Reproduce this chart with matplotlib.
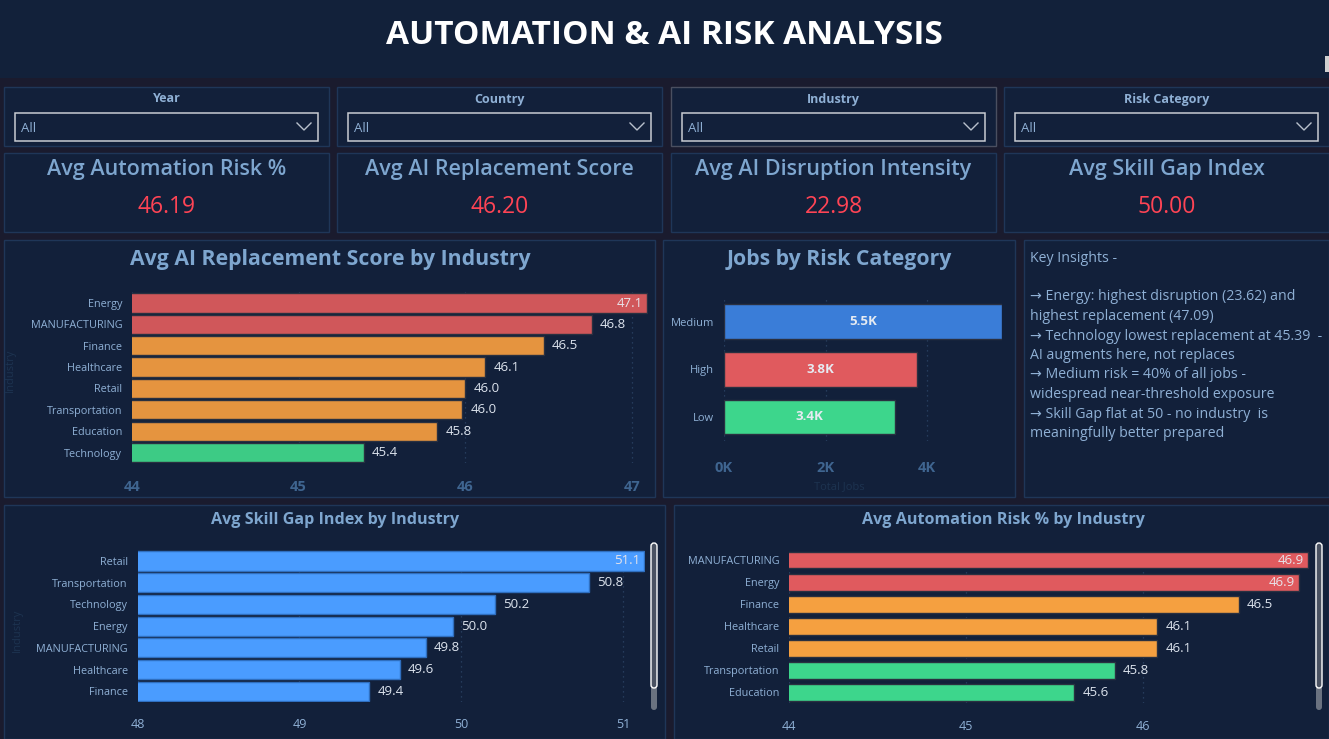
import matplotlib
matplotlib.use("Agg")
import matplotlib.pyplot as plt
from matplotlib.patches import Rectangle, FancyBboxPatch

W, H = 1329, 739
DPI = 100

# ---------------- data ----------------
title = "AUTOMATION & AI RISK ANALYSIS"
slicer_titles = ["Year", "Country", "Industry", "Risk Category"]
slicer_values = ["All", "All", "All", "All"]
kpi_titles = ["Avg Automation Risk %", "Avg AI Replacement Score",
              "Avg AI Disruption Intensity", "Avg Skill Gap Index"]
kpi_values = [46.19, 46.20, 22.98, 50.00]

repl_industries = ["Energy", "MANUFACTURING", "Finance", "Healthcare", "Retail",
                   "Transportation", "Education", "Technology"]
repl_scores = [47.09, 46.76, 46.47, 46.12, 46.00, 45.98, 45.83, 45.39]
repl_colors = ["#d0575a", "#d0575a", "#e5943f", "#e5943f", "#e5943f",
               "#e5943f", "#e5943f", "#3dcb85"]
repl_ticks = [44, 45, 46, 47]

risk_categories = ["Medium", "High", "Low"]
risk_jobs = [5470, 3808, 3379]
risk_colors = ["#3a7dd8", "#e05a5e", "#3dd68c"]
risk_ticks = [0, 2000, 4000]
risk_tick_labels = ["0K", "2K", "4K"]

skill_industries = ["Retail", "Transportation", "Technology", "Energy",
                    "MANUFACTURING", "Healthcare", "Finance"]
skill_gap = [51.13, 50.79, 50.21, 49.95, 49.78, 49.62, 49.43]
skill_ticks = [48, 49, 50, 51]

auto_industries = ["MANUFACTURING", "Energy", "Finance", "Healthcare", "Retail",
                   "Transportation", "Education"]
auto_risk = [46.93, 46.88, 46.54, 46.08, 46.08, 45.84, 45.61]
auto_colors = ["#e05a5e", "#e05a5e", "#f5a040", "#f5a040", "#f5a040",
               "#3dd68c", "#3dd68c"]
auto_ticks = [44, 45, 46]

insights = [
    "Key Insights -",
    "",
    "\u2192 Energy: highest disruption (23.62) and",
    "highest replacement (47.09)",
    "\u2192 Technology lowest replacement at 45.39  -",
    "AI augments here, not replaces",
    "\u2192 Medium risk = 40% of all jobs -",
    "widespread near-threshold exposure",
    "\u2192 Skill Gap flat at 50 - no industry  is",
    "meaningfully better prepared",
]

# ---------------- style ----------------
BG = "#1a1b2e"
HEADER = "#12213a"
PANEL = "#12203a"
BORDER = "#1f3658"
TITLE_C = "#7ea6cf"
LABEL_C = "#8fb0d5"
VALUE_C = "#ff4455"
DLABEL_C = "#dde4ee"
GRID_C = "#2c4466"
FONT = "Open Sans"

plt.rcParams["font.family"] = [FONT, "DejaVu Sans"]

fig = plt.figure(figsize=(W / DPI, H / DPI), dpi=DPI, facecolor=BG)
bg = fig.add_axes([0, 0, 1, 1])
bg.set_xlim(0, W)
bg.set_ylim(H, 0)
bg.axis("off")
bg.set_facecolor(BG)
bg.add_patch(Rectangle((0, 0), W, H, fc=BG, ec="none", zorder=0))


def panel(x0, y0, x1, y1, ec=BORDER, fc=PANEL):
    bg.add_patch(Rectangle((x0, y0), x1 - x0, y1 - y0, fc=fc, ec=ec, lw=1, zorder=1))


def px_axes(x0, y0, x1, y1):
    ax = fig.add_axes([x0 / W, 1 - y1 / H, (x1 - x0) / W, (y1 - y0) / H])
    ax.set_facecolor("none")
    for s in ax.spines.values():
        s.set_visible(False)
    return ax


# header
bg.add_patch(Rectangle((0, 0), W, 78, fc=HEADER, ec="none", zorder=1))
bg.text(W / 2, 35.5, title, color="white", fontsize=24, fontweight="bold",
        ha="center", va="center", zorder=3)
bg.add_patch(Rectangle((1325, 56), 6, 16, fc="#d0d0d0", ec="none", zorder=3))

# slicers and KPI cards
cols = [(4, 329), (337, 662), (671, 996), (1004, 1329)]
for i, (x0, x1) in enumerate(cols):
    ec = "#4a4f60" if i == 2 else BORDER
    panel(x0, 87, x1, 146, ec=ec)
    bg.text((x0 + x1) / 2, 99, slicer_titles[i], color=LABEL_C, fontsize=9,
            fontweight="bold", ha="center", va="center", zorder=3)
    bg.add_patch(Rectangle((x0 + 11, 113), (x1 - x0) - 22, 28, fc=PANEL,
                           ec="#c8ccd2", lw=1.1, zorder=2))
    bg.text(x0 + 17, 129, slicer_values[i], color=LABEL_C, fontsize=9.5,
            ha="left", va="center", zorder=3)
    cx = x1 - 25
    bg.plot([cx - 7, cx, cx + 7], [123, 130, 123], color="#b8c0cc", lw=1.0, zorder=3)

    panel(x0, 153, x1, 232)
    bg.text((x0 + x1) / 2, 170, kpi_titles[i], color=TITLE_C, fontsize=15.5,
            fontweight="semibold", ha="center", va="center", zorder=3)
    bg.text((x0 + x1) / 2, 207, f"{kpi_values[i]:.2f}", color=VALUE_C, fontsize=16.5,
            ha="center", va="center", zorder=3)

# big panels
panel(4, 240, 655, 497)
panel(663, 240, 1015, 497)
panel(1024, 240, 1329, 497)
panel(4, 505, 665, 739)
panel(674, 505, 1329, 739)


def hbar(ax, cats, vals, colors, x0, ppu, left_px, right_px, ticks, height,
         tick_color, tick_bold, tick_size, ylab_size, lab_size, tick_pad_px,
         fmt, edge="#2a3040"):
    n = len(cats)
    ypos = list(range(n))
    ax.barh(ypos, vals, height=height, color=colors, edgecolor=edge, lw=1.0,
            zorder=3, left=0)
    xmax = x0 + (right_px - left_px) / ppu
    ax.set_xlim(x0, xmax)
    ax.set_ylim(n - 0.5, -0.5)
    ax.set_yticks(ypos)
    ax.set_yticklabels(cats, color=LABEL_C, fontsize=ylab_size)
    ax.set_xticks(ticks)
    ax.tick_params(axis="both", length=0)
    ax.tick_params(axis="y", pad=7)
    ax.tick_params(axis="x", pad=tick_pad_px * 0.72, labelsize=tick_size,
                   labelcolor=tick_color)
    if tick_bold:
        for t in ax.get_xticklabels():
            t.set_fontweight("bold")
    ax.grid(axis="x", color=GRID_C, ls=(0, (1, 3)), lw=0.9, zorder=0)
    ax.set_axisbelow(True)
    thresh = xmax - 40 / ppu
    for y, v in zip(ypos, vals):
        txt = fmt(v)
        if v > thresh:
            ax.annotate(txt, (v, y), xytext=(-3, 0), textcoords="offset points",
                        ha="right", va="center", color="#e8e4ea", fontsize=lab_size,
                        zorder=4)
        else:
            ax.annotate(txt, (v, y), xytext=(6, 0), textcoords="offset points",
                        ha="left", va="center", color=DLABEL_C, fontsize=lab_size,
                        zorder=4)
    return ax


# chart 1: AI replacement score
bg.text(330, 260, "Avg AI Replacement Score by Industry", color=TITLE_C,
        fontsize=15.3, fontweight="bold", ha="center", va="center", zorder=3)
sp = 21.36
ax1 = px_axes(132, 303 - sp / 2, 648, 303 + 7.5 * sp)
hbar(ax1, repl_industries, repl_scores, repl_colors, 44, 166.6, 132, 648,
     repl_ticks, 0.9, "#3f6590", True, 10.5, 7.8, 9.5, 17,
     lambda v: f"{v:.1f}")
bg.text(10, 370, "Industry", color="#1d3350", fontsize=8, rotation=90,
        ha="center", va="center", zorder=3)

# chart 2: jobs by risk
bg.text(839, 260, "Jobs by Risk Category", color=TITLE_C, fontsize=15.3,
        fontweight="bold", ha="center", va="center", zorder=3)
sp2 = 47.75
ax2 = px_axes(724, 321.5 - sp2 / 2, 1002, 417 + sp2 / 2)
ppu2 = 50.75 / 1000
ax2.barh(range(3), risk_jobs, height=0.73, color=risk_colors, edgecolor="#2a3040",
         lw=1.0, zorder=3)
ax2.set_xlim(0, (1002 - 724) / ppu2)
ax2.set_ylim(2.5, -0.5)
ax2.set_yticks(range(3))
ax2.set_yticklabels(risk_categories, color=LABEL_C, fontsize=8)
ax2.set_xticks(risk_ticks)
ax2.set_xticklabels(risk_tick_labels, fontweight="bold")
ax2.tick_params(axis="both", length=0)
ax2.tick_params(axis="y", pad=7)
ax2.tick_params(axis="x", pad=20 * 0.72, labelsize=10.5, labelcolor="#3f6590")
ax2.grid(axis="x", color=GRID_C, ls=(0, (1, 3)), lw=0.9, zorder=0)
ax2.set_axisbelow(True)
for i, v in enumerate(risk_jobs):
    ax2.text(v / 2, i, f"{v / 1000:.1f}K", color="#e6ebf2", fontsize=9.5,
             fontweight="bold", ha="center", va="center", zorder=4)
bg.text(839, 487, "Total Jobs", color="#1d3350", fontsize=8, ha="center",
        va="center", zorder=3)

# key insights
for k, line in enumerate(insights):
    y = 258 if k == 0 else 258 + 19.5 * k
    bg.text(1030, y, line, color=LABEL_C, fontsize=10.2, ha="left",
            va="center", zorder=3)

# chart 3: skill gap
bg.text(335, 519.5, "Avg Skill Gap Index by Industry", color=TITLE_C, fontsize=11.6,
        fontweight="bold", ha="center", va="center", zorder=3)
sp3 = 21.7
ax3 = px_axes(137.6, 561 - sp3 / 2, 645, 561 + 6.5 * sp3)
hbar(ax3, skill_industries, skill_gap, ["#4a9cff"] * 7, 48, 161.8, 137.6, 645,
     skill_ticks, 0.88, LABEL_C, False, 9, 7.8, 9.5, 16,
     lambda v: f"{v:.1f}", edge="#2f6fc0")
bg.text(17, 630, "Industry", color="#1d3350", fontsize=8, rotation=90,
        ha="center", va="center", zorder=3)

# chart 4: automation risk
bg.text(1003, 519.5, "Avg Automation Risk % by Industry", color=TITLE_C, fontsize=11.6,
        fontweight="bold", ha="center", va="center", zorder=3)
sp4 = 22.05
ax4 = px_axes(789, 560 - sp4 / 2, 1310, 560 + 6.5 * sp4)
hbar(ax4, auto_industries, auto_risk, auto_colors, 44, 177, 789, 1310,
     auto_ticks, 0.77, LABEL_C, False, 9, 7.8, 9.5, 17,
     lambda v: f"{v:.1f}")

# scrollbars
for sx in (651, 1316):
    bg.add_patch(FancyBboxPatch((sx, 543), 6, 167, boxstyle="round,pad=0,rounding_size=3",
                                fc="#6a7280", ec="none", zorder=3))
    bg.add_patch(FancyBboxPatch((sx, 543), 6, 145, boxstyle="round,pad=0,rounding_size=3",
                                fc="#4a5262", ec="white", lw=1.0, zorder=4))

fig.savefig("out.png", dpi=DPI, facecolor=BG)
